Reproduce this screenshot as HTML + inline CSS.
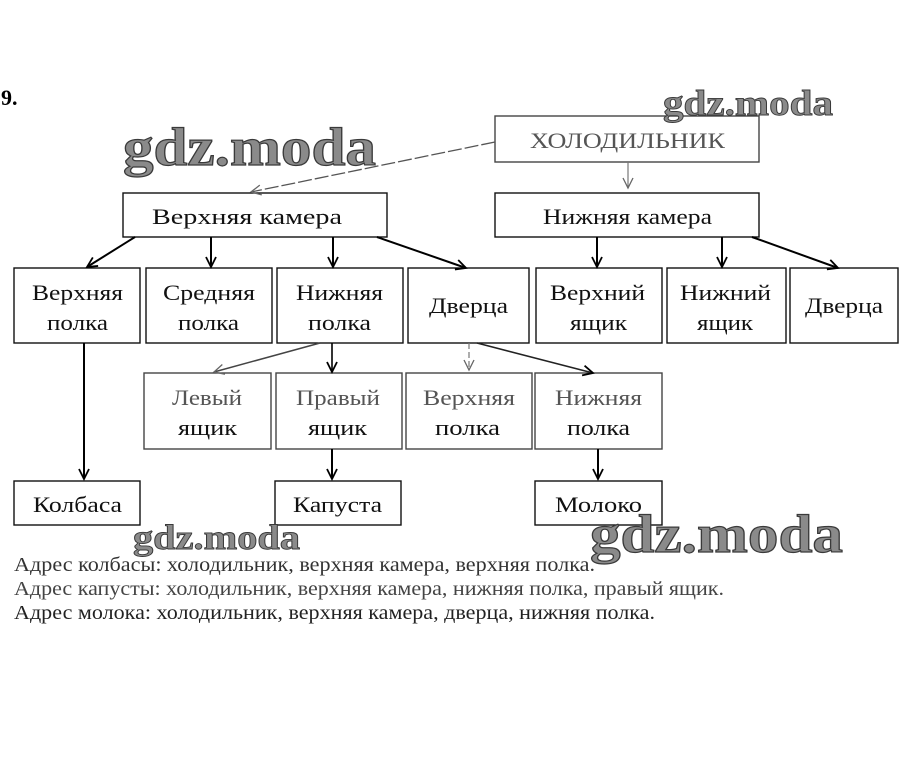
<!DOCTYPE html>
<html><head><meta charset="utf-8"><style>
html,body{margin:0;padding:0;background:#fff;}
svg{display:block;}
text{font-family:"Liberation Serif","DejaVu Serif",serif;}
.t{font-size:22px;fill:#111;text-anchor:start;}
.g{fill:#555;}
.wm{font-family:"Liberation Serif",serif;font-weight:bold;fill:#8a8a8a;stroke:#3a3a3a;stroke-width:1.2px;}
</style></head><body>
<svg width="909" height="765" viewBox="0 0 909 765" xmlns="http://www.w3.org/2000/svg">
<defs>
<marker id="a" markerUnits="userSpaceOnUse" markerWidth="14" markerHeight="14" refX="11" refY="6" orient="auto">
<path d="M1,1 L11,6 L1,11" fill="none" stroke="#000" stroke-width="1.8"/>
</marker>
<marker id="ag" markerUnits="userSpaceOnUse" markerWidth="14" markerHeight="14" refX="11" refY="6" orient="auto">
<path d="M1,1 L11,6 L1,11" fill="none" stroke="#666" stroke-width="1.3"/>
</marker>
</defs>
<rect width="909" height="765" fill="#fff"/>

<text x="1" y="105" style="font-size:22px;font-weight:bold;fill:#000">9.</text>

<!-- boxes -->
<g fill="none" stroke="#111" stroke-width="1.4">
<rect x="495" y="116" width="264" height="46" stroke="#444"/>
<rect x="123" y="193" width="264" height="44"/>
<rect x="495" y="193" width="264" height="44"/>
<rect x="14" y="268" width="126" height="75"/>
<rect x="146" y="268" width="126" height="75"/>
<rect x="277" y="268" width="126" height="75"/>
<rect x="408" y="268" width="121" height="75"/>
<rect x="536" y="268" width="126" height="75"/>
<rect x="667" y="268" width="119" height="75"/>
<rect x="790" y="268" width="108" height="75"/>
<rect x="144" y="373" width="127" height="76" stroke="#444"/>
<rect x="276" y="373" width="126" height="76" stroke="#444"/>
<rect x="406" y="373" width="126" height="76" stroke="#444"/>
<rect x="535" y="373" width="127" height="76" stroke="#444"/>
<rect x="14" y="481" width="126" height="44"/>
<rect x="275" y="481" width="126" height="44"/>
<rect x="535" y="481" width="127" height="44"/>
</g>

<!-- connectors -->
<g fill="none">
<line x1="495" y1="142" x2="251" y2="192" stroke="#555" stroke-width="1.3" stroke-dasharray="14 3" marker-end="url(#ag)"/>
<line x1="628" y1="162" x2="628" y2="188" stroke="#777" stroke-width="1.2" marker-end="url(#ag)"/>
<g stroke="#000" stroke-width="2">
<line x1="135" y1="237" x2="87" y2="267" marker-end="url(#a)"/>
<line x1="211" y1="237" x2="211" y2="267" marker-end="url(#a)"/>
<line x1="333" y1="237" x2="333" y2="267" marker-end="url(#a)"/>
<line x1="377" y1="237" x2="466" y2="268" marker-end="url(#a)"/>
<line x1="597" y1="237" x2="597" y2="267" marker-end="url(#a)"/>
<line x1="722" y1="237" x2="722" y2="267" marker-end="url(#a)"/>
<line x1="752" y1="237" x2="838" y2="268" marker-end="url(#a)"/>
<line x1="84" y1="343" x2="84" y2="479" marker-end="url(#a)"/>
<line x1="332" y1="449" x2="332" y2="479" marker-end="url(#a)"/>
<line x1="598" y1="449" x2="598" y2="479" marker-end="url(#a)"/>
</g>
<line x1="320" y1="343" x2="214" y2="372" stroke="#444" stroke-width="1.5" marker-end="url(#ag)"/>
<line x1="332" y1="343" x2="332" y2="372" stroke="#000" stroke-width="1.6" marker-end="url(#a)"/>
<line x1="469" y1="343" x2="469" y2="370" stroke="#777" stroke-width="1.2" stroke-dasharray="6 3" marker-end="url(#ag)"/>
<line x1="477" y1="343" x2="593" y2="373" stroke="#222" stroke-width="1.6" marker-end="url(#a)"/>
</g>

<!-- labels -->
<text class="t g" x="530" y="148" textLength="195" lengthAdjust="spacingAndGlyphs">ХОЛОДИЛЬНИК</text>
<text class="t" x="152" y="224" textLength="190" lengthAdjust="spacingAndGlyphs">Верхняя камера</text>
<text class="t" x="543" y="224" textLength="169" lengthAdjust="spacingAndGlyphs">Нижняя камера</text>

<text class="t" x="32" y="300" textLength="91" lengthAdjust="spacingAndGlyphs">Верхняя</text>
<text class="t" x="47" y="330" textLength="61" lengthAdjust="spacingAndGlyphs">полка</text>
<text class="t" x="163" y="300" textLength="92" lengthAdjust="spacingAndGlyphs">Средняя</text>
<text class="t" x="178" y="330" textLength="61" lengthAdjust="spacingAndGlyphs">полка</text>
<text class="t" x="296" y="300" textLength="87" lengthAdjust="spacingAndGlyphs">Нижняя</text>
<text class="t" x="308" y="330" textLength="63" lengthAdjust="spacingAndGlyphs">полка</text>
<text class="t" x="429" y="313" textLength="79" lengthAdjust="spacingAndGlyphs">Дверца</text>
<text class="t" x="550" y="300" textLength="95" lengthAdjust="spacingAndGlyphs">Верхний</text>
<text class="t" x="570" y="330" textLength="57" lengthAdjust="spacingAndGlyphs">ящик</text>
<text class="t" x="680" y="300" textLength="91" lengthAdjust="spacingAndGlyphs">Нижний</text>
<text class="t" x="697" y="330" textLength="56" lengthAdjust="spacingAndGlyphs">ящик</text>
<text class="t" x="805" y="313" textLength="78" lengthAdjust="spacingAndGlyphs">Дверца</text>

<text class="t g" x="172" y="405" textLength="70" lengthAdjust="spacingAndGlyphs">Левый</text>
<text class="t" x="178" y="435" textLength="59" lengthAdjust="spacingAndGlyphs">ящик</text>
<text class="t g" x="296" y="405" textLength="84" lengthAdjust="spacingAndGlyphs">Правый</text>
<text class="t" x="308" y="435" textLength="59" lengthAdjust="spacingAndGlyphs">ящик</text>
<text class="t g" x="423" y="405" textLength="92" lengthAdjust="spacingAndGlyphs">Верхняя</text>
<text class="t" x="435" y="435" textLength="65" lengthAdjust="spacingAndGlyphs">полка</text>
<text class="t g" x="555" y="405" textLength="87" lengthAdjust="spacingAndGlyphs">Нижняя</text>
<text class="t" x="567" y="435" textLength="63" lengthAdjust="spacingAndGlyphs">полка</text>

<text class="t" x="33" y="512" textLength="89" lengthAdjust="spacingAndGlyphs">Колбаса</text>
<text class="t" x="293" y="512" textLength="89" lengthAdjust="spacingAndGlyphs">Капуста</text>
<text class="t" x="555" y="512" textLength="87" lengthAdjust="spacingAndGlyphs">Молоко</text>

<!-- bottom text -->
<text x="14" y="571" style="font-size:20px;fill:#333" textLength="581" lengthAdjust="spacingAndGlyphs">Адрес колбасы: холодильник, верхняя камера, верхняя полка.</text>
<text x="14" y="595" style="font-size:20px;fill:#444" textLength="710" lengthAdjust="spacingAndGlyphs">Адрес капусты: холодильник, верхняя камера, нижняя полка, правый ящик.</text>
<text x="14" y="619" style="font-size:20px;fill:#222" textLength="641" lengthAdjust="spacingAndGlyphs">Адрес молока: холодильник, верхняя камера, дверца, нижняя полка.</text>

<!-- watermarks -->
<text class="wm" x="123" y="165" style="font-size:54px" textLength="253" lengthAdjust="spacingAndGlyphs">gdz.moda</text>
<text class="wm" x="663" y="115" style="font-size:36px;stroke-width:0.9px" textLength="170" lengthAdjust="spacingAndGlyphs">gdz.moda</text>
<text class="wm" x="133" y="549" style="font-size:35px;stroke-width:0.9px" textLength="167" lengthAdjust="spacingAndGlyphs">gdz.moda</text>
<text class="wm" x="590" y="552" style="font-size:54px" textLength="253" lengthAdjust="spacingAndGlyphs">gdz.moda</text>
</svg>
</body></html>
